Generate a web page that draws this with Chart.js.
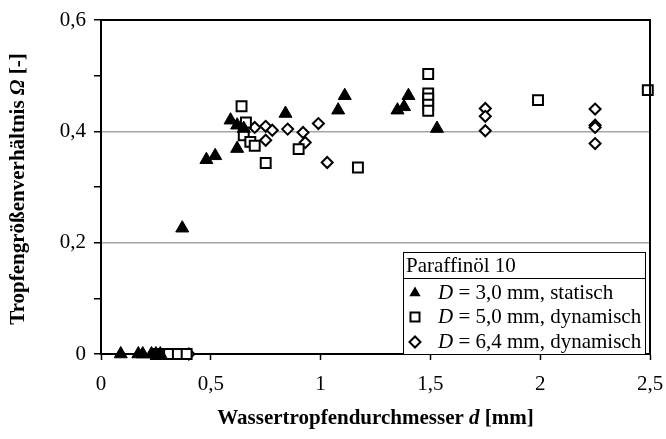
<!DOCTYPE html>
<html>
<head>
<meta charset="utf-8">
<script src="https://cdn.jsdelivr.net/npm/chart.js@4/dist/chart.umd.min.js"></script>
<style>
  html, body { margin: 0; padding: 0; background: #fff; }
  #wrap { width: 666px; height: 439px; }
</style>
</head>
<body>
<div id="wrap"><canvas id="chart" width="666" height="439"></canvas></div>
<script>
// === DATA ===
const static30X = [0.09, 0.17, 0.19, 0.23, 0.25, 0.27, 0.37, 0.48, 0.52, 0.59, 0.62, 0.62, 0.65, 0.84, 1.08, 1.11, 1.35, 1.38, 1.40, 1.53];
const static30Y = [0, 0, 0, 0, 0, 0, 0.226, 0.349, 0.356, 0.420, 0.369, 0.411, 0.405, 0.432, 0.438, 0.464, 0.438, 0.444, 0.464, 0.405];

const dyn50X = [0.25, 0.27, 0.31, 0.35, 0.39, 0.64, 0.66, 0.65, 0.68, 0.70, 0.75, 0.90, 1.17, 1.49, 1.49, 1.49, 1.49, 1.49, 1.99, 2.49];
const dyn50Y = [0, 0, 0, 0, 0, 0.445, 0.416, 0.393, 0.381, 0.374, 0.343, 0.368, 0.335, 0.503, 0.468, 0.459, 0.448, 0.437, 0.456, 0.474];

const dyn64X = [0.40, 0.70, 0.75, 0.78, 0.75, 0.85, 0.92, 0.93, 0.99, 1.03, 1.75, 1.75, 1.75, 2.25, 2.25, 2.25, 2.25];
const dyn64Y = [0, 0.407, 0.409, 0.402, 0.384, 0.404, 0.398, 0.380, 0.414, 0.344, 0.441, 0.427, 0.401, 0.440, 0.411, 0.407, 0.378];

const xTickValues = [0, 0.5, 1, 1.5, 2, 2.5];
const xTickLabels = ["0", "0,5", "1", "1,5", "2", "2,5"];
const yTickValues = [0, 0.1, 0.2, 0.3, 0.4, 0.5, 0.6];
const yTickLabels = ["0", "", "0,2", "", "0,4", "", "0,6"];

const legendTitle = "Paraffinöl 10";
const legendRows = [
  { pre: "D", text: " = 3,0 mm, statisch", style: "triangle" },
  { pre: "D", text: " = 5,0 mm, dynamisch", style: "rect" },
  { pre: "D", text: " = 6,4 mm, dynamisch", style: "rectRot" }
];

const FONT = "'Liberation Serif', 'Times New Roman', serif";

function toPoints(xs, ys) {
  return xs.map((x, i) => ({ x: x, y: ys[i] }));
}

function drawMarker(ctx, style, x, y) {
  ctx.save();
  ctx.lineWidth = 2;
  ctx.strokeStyle = "#000";
  ctx.beginPath();
  if (style === "triangle") {
    const r = 6.5;
    ctx.moveTo(x, y - r);
    ctx.lineTo(x + r * 0.866, y + r / 2);
    ctx.lineTo(x - r * 0.866, y + r / 2);
    ctx.closePath();
    ctx.fillStyle = "#000";
    ctx.fill();
  } else if (style === "rect") {
    ctx.rect(x - 4.5, y - 4.5, 9, 9);
    ctx.fillStyle = "#fff";
    ctx.fill();
    ctx.stroke();
  } else {
    const r = 5.5;
    ctx.moveTo(x - r, y);
    ctx.lineTo(x, y - r);
    ctx.lineTo(x + r, y);
    ctx.lineTo(x, y + r);
    ctx.closePath();
    ctx.fillStyle = "#fff";
    ctx.fill();
    ctx.stroke();
  }
  ctx.restore();
}

// draws a list of [text, font] parts centred on (cx, cy)
function drawParts(ctx, parts, cx, cy) {
  let total = 0;
  parts.forEach(p => { ctx.font = p[1]; total += ctx.measureText(p[0]).width; });
  let x = cx - total / 2;
  ctx.textBaseline = "middle";
  ctx.textAlign = "left";
  parts.forEach(p => {
    ctx.font = p[1];
    ctx.fillText(p[0], x, cy);
    x += ctx.measureText(p[0]).width;
  });
}

const decorPlugin = {
  id: "decor",
  afterDraw(chart) {
    const ctx = chart.ctx;
    const a = chart.chartArea;
    ctx.save();
    ctx.fillStyle = "#000";

    // top and right frame
    ctx.strokeStyle = "#000";
    ctx.lineWidth = 2;
    ctx.beginPath();
    ctx.moveTo(a.left - 1, a.top);
    ctx.lineTo(a.right, a.top);
    ctx.lineTo(a.right, a.bottom + 1);
    ctx.stroke();

    // axis titles
    const bold = "bold 21px " + FONT;
    const boldIt = "italic bold 21px " + FONT;
    drawParts(ctx, [["Wassertropfendurchmesser ", bold], ["d", boldIt], [" [mm]", bold]], (a.left + a.right) / 2, 419);
    ctx.save();
    ctx.translate(19, 189);
    ctx.rotate(-Math.PI / 2);
    drawParts(ctx, [["Tropfengrößenverhältnis ", bold], ["Ω", boldIt], [" [-]", bold]], 0, 0);
    ctx.restore();

    // legend box
    const lx = 403, ly = 252, lw = a.right - 5 - 403, lh = a.bottom - 252;
    ctx.fillStyle = "#fff";
    ctx.fillRect(lx, ly, lw, lh);
    ctx.lineWidth = 1;
    ctx.strokeStyle = "#000";
    ctx.strokeRect(lx + 0.5, ly + 0.5, lw, lh);
    ctx.beginPath();
    ctx.moveTo(lx, 278.5);
    ctx.lineTo(lx + lw, 278.5);
    ctx.stroke();

    ctx.fillStyle = "#000";
    ctx.textBaseline = "middle";
    ctx.textAlign = "left";
    ctx.font = "21px " + FONT;
    ctx.fillText(legendTitle, 406, 266);
    const rowY = [293, 317, 342];
    legendRows.forEach((row, i) => {
      drawMarker(ctx, row.style, 415, rowY[i]);
      ctx.fillStyle = "#000";
      ctx.font = "italic 21px " + FONT;
      ctx.fillText(row.pre, 438, rowY[i]);
      const w = ctx.measureText(row.pre).width;
      ctx.font = "21px " + FONT;
      ctx.fillText(row.text, 438 + w, rowY[i]);
    });
    ctx.restore();
  }
};

new Chart(document.getElementById("chart").getContext("2d"), {
  type: "scatter",
  data: {
    datasets: [
      {
        label: "D = 3,0 mm, statisch",
        data: toPoints(static30X, static30Y),
        pointStyle: "triangle",
        radius: 7.5,
        backgroundColor: "#000",
        borderColor: "#000",
        borderWidth: 1,
        clip: false
      },
      {
        label: "D = 5,0 mm, dynamisch",
        data: toPoints(dyn50X, dyn50Y),
        pointStyle: "rect",
        radius: 7,
        backgroundColor: "#fff",
        borderColor: "#000",
        borderWidth: 2,
        clip: false
      },
      {
        label: "D = 6,4 mm, dynamisch",
        data: toPoints(dyn64X, dyn64Y),
        pointStyle: "rectRot",
        radius: 5.5,
        backgroundColor: "#fff",
        borderColor: "#000",
        borderWidth: 2,
        clip: false
      }
    ]
  },
  options: {
    responsive: false,
    animation: false,
    events: [],
    layout: { padding: { top: 20, right: 16, left: 0, bottom: 0 } },
    plugins: {
      legend: { display: false },
      tooltip: { enabled: false }
    },
    scales: {
      x: {
        type: "linear",
        min: 0,
        max: 2.5,
        afterBuildTicks: scale => { scale.ticks = xTickValues.map(v => ({ value: v })); },
        afterFit: scale => { scale.height = 85; scale.paddingLeft = 0; scale.paddingRight = 0; },
        border: { color: "#000", width: 2 },
        grid: { drawOnChartArea: false, color: "#000", tickColor: "#000", tickLength: 6, tickWidth: 1.5 },
        ticks: {
          color: "#000",
          font: { family: FONT, size: 21 },
          padding: 12,
          maxRotation: 0,
          callback: (v, i) => xTickLabels[i]
        }
      },
      y: {
        type: "linear",
        min: 0,
        max: 0.6,
        afterBuildTicks: scale => { scale.ticks = yTickValues.map(v => ({ value: v })); },
        afterFit: scale => { scale.width = 101; scale.paddingTop = 0; scale.paddingBottom = 0; },
        border: { color: "#000", width: 2 },
        grid: {
          color: c => (c.index === 2 || c.index === 4) ? "#a6a6a6" : "rgba(0,0,0,0)",
          lineWidth: 1.5,
          tickColor: "#000",
          tickLength: 7,
          tickWidth: 1.5
        },
        ticks: {
          color: "#000",
          font: { family: FONT, size: 21 },
          padding: 8,
          callback: (v, i) => yTickLabels[i]
        }
      }
    }
  },
  plugins: [decorPlugin]
});
</script>
</body>
</html>
